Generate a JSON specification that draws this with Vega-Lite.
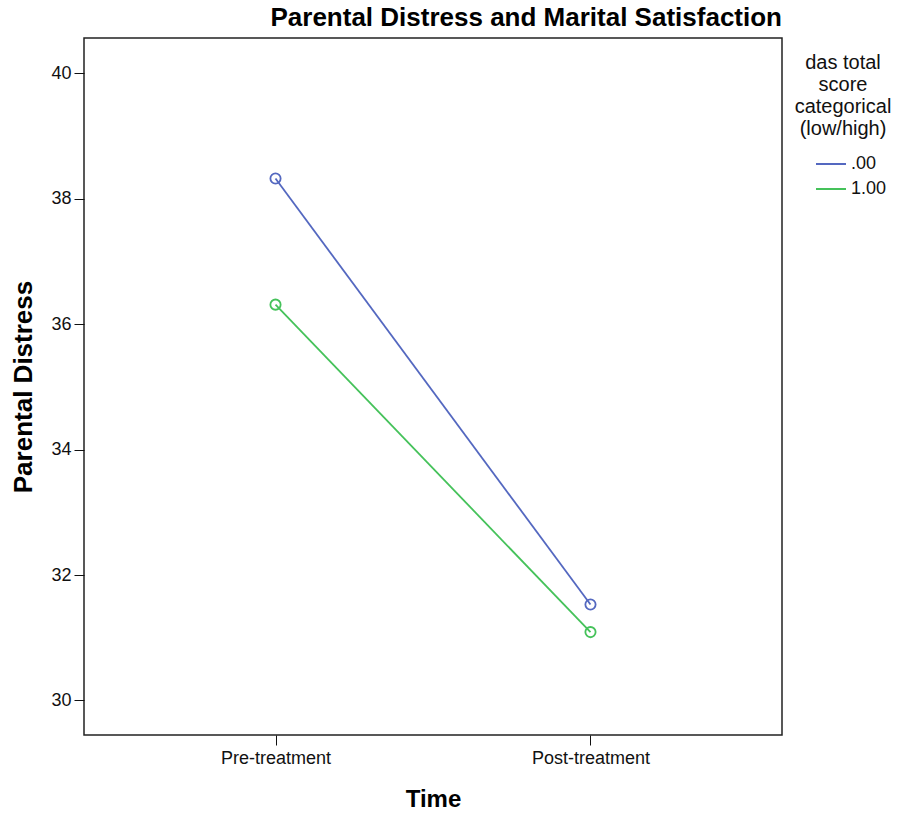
{
  "$schema": "https://vega.github.io/schema/vega-lite/v6.json",
  "autosize": "none",
  "padding": {"left": 84, "top": 38, "right": 125, "bottom": 81},
  "width": 698,
  "height": 697,
  "config": {
    "font": "Liberation Sans",
    "view": {"stroke": "#222", "strokeWidth": 1.5},
    "axis": {"grid": false, "domain": false, "labelColor": "#111", "titleColor": "#000", "tickColor": "#111"}
  },
  "title": {
    "text": "Parental Distress and Marital Satisfaction",
    "anchor": "end",
    "frame": "group",
    "fontSize": 26,
    "fontWeight": "bold",
    "color": "#000",
    "offset": 7
  },
  "data": {
    "values": [
      {"Time": "Pre-treatment", "das": ".00", "distress": 38.32},
      {"Time": "Post-treatment", "das": ".00", "distress": 31.53},
      {"Time": "Pre-treatment", "das": "1.00", "distress": 36.31},
      {"Time": "Post-treatment", "das": "1.00", "distress": 31.09}
    ]
  },
  "encoding": {
    "x": {
      "field": "Time",
      "type": "ordinal",
      "sort": ["Pre-treatment", "Post-treatment"],
      "scale": {"type": "point", "padding": 0.608},
      "axis": {"title": "Time", "labelAngle": 0, "labelFontSize": 18, "titleFontSize": 24, "titleFontWeight": "bold", "tickSize": 10, "labelPadding": 4, "titlePadding": 20}
    },
    "y": {
      "field": "distress",
      "type": "quantitative",
      "scale": {"domain": [29.45, 40.56], "nice": false, "zero": false},
      "axis": {"title": "Parental Distress", "values": [30, 32, 34, 36, 38, 40], "labelFontSize": 18, "titleFontSize": 26, "titleFontWeight": "bold", "tickSize": 10, "labelPadding": 3, "titlePadding": 14}
    },
    "color": {
      "field": "das",
      "type": "nominal",
      "scale": {"domain": [".00", "1.00"], "range": ["#5468c0", "#45c25a"]},
      "legend": {
        "title": ["das total", "score", "categorical", "(low/high)"],
        "orient": "none",
        "legendX": 711,
        "legendY": 15,
        "titleFontSize": 20,
        "titleFontWeight": "normal",
        "titleColor": "#111",
        "titleAlign": "center",
        "titleAnchor": "middle",
        "titleLineHeight": 22,
        "titlePadding": 9,
        "labelFontSize": 18,
        "labelColor": "#111",
        "symbolType": "stroke",
        "symbolSize": 900,
        "symbolStrokeWidth": 2,
        "symbolOffset": 16,
        "labelOffset": 4,
        "rowPadding": -10
      }
    }
  },
  "layer": [
    {"mark": {"type": "line", "strokeWidth": 1.8}},
    {"mark": {"type": "point", "shape": "circle", "filled": false, "size": 105, "strokeWidth": 1.8, "opacity": 1}}
  ]
}
